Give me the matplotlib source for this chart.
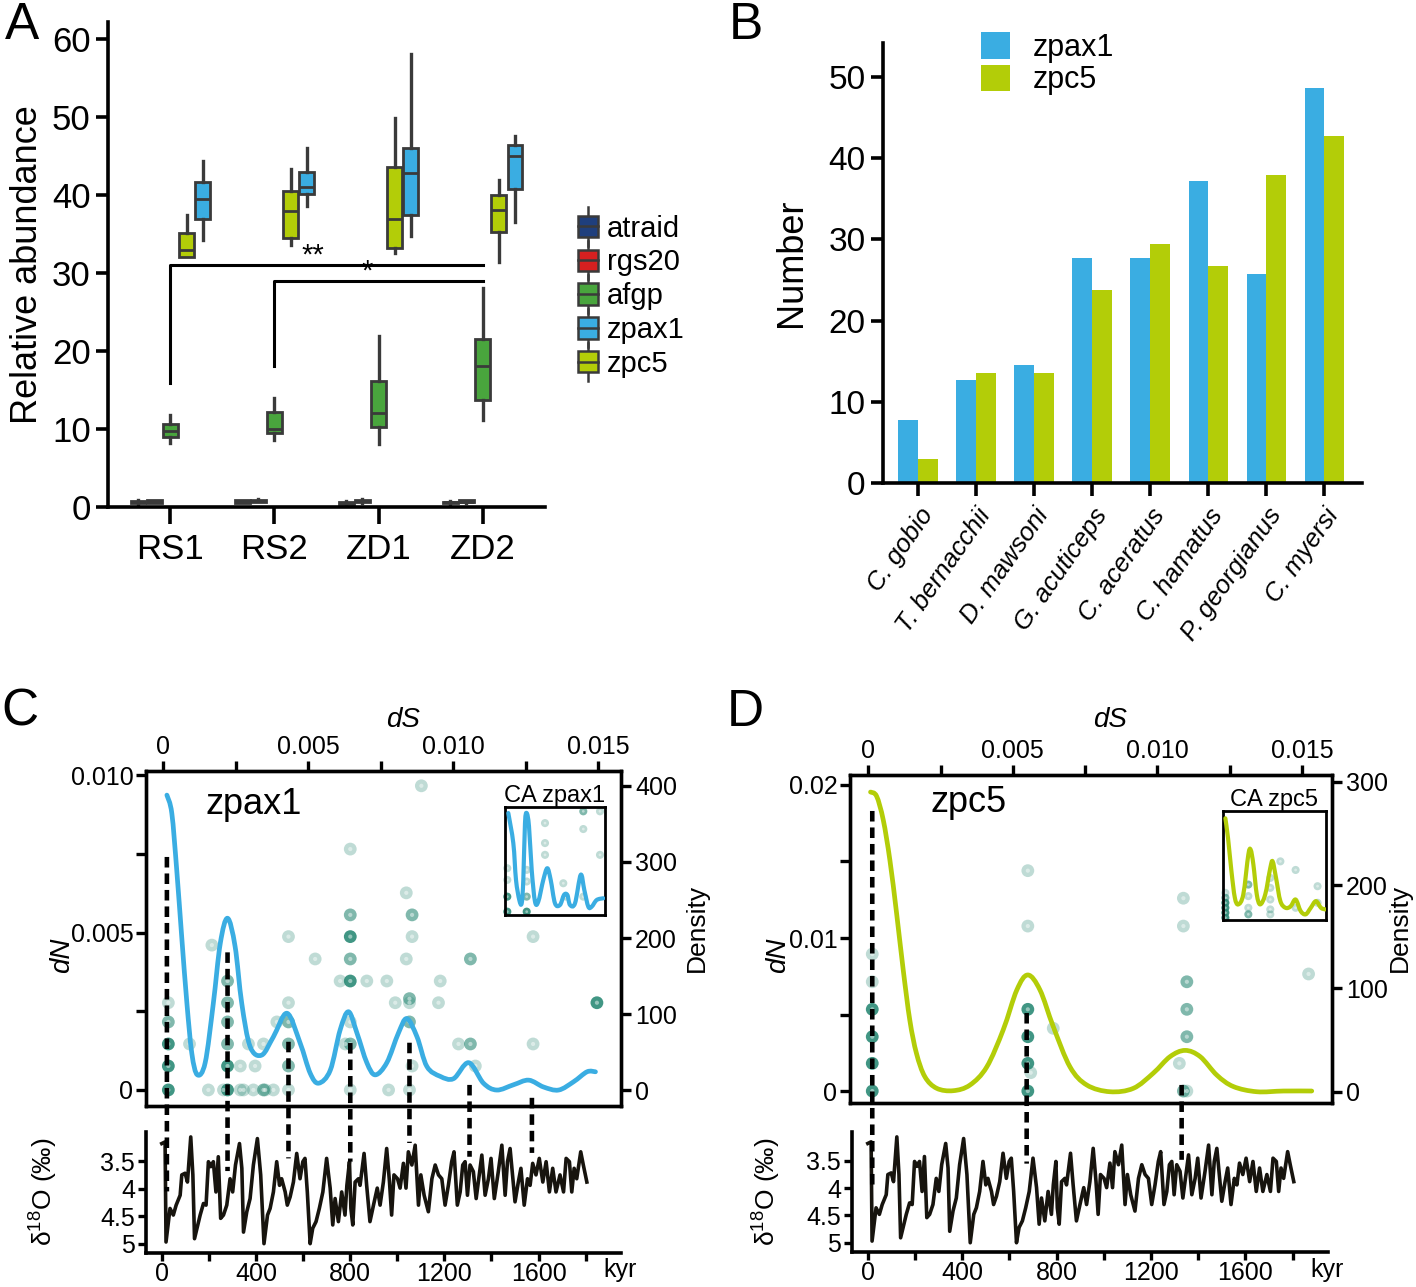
import numpy as np
import matplotlib
matplotlib.use('Agg')
import matplotlib.pyplot as plt
from matplotlib.patches import Patch, Rectangle, ConnectionPatch, PathPatch
from matplotlib.path import Path
from matplotlib.lines import Line2D
from matplotlib.legend_handler import HandlerBase
from matplotlib.transforms import blended_transform_factory
from matplotlib.colors import to_rgba

plt.rcParams['font.family'] = ['Liberation Sans', 'DejaVu Sans']
plt.rcParams['mathtext.fontset'] = 'custom'
plt.rcParams['mathtext.rm'] = 'Liberation Sans'
plt.rcParams['mathtext.it'] = 'Liberation Sans:italic'

# ---------------- data ----------------
# panel A: box stats per group [whislo, q1, median, q3, whishi]
groups = ['RS1', 'RS2', 'ZD1', 'ZD2']
atraid = [[0.4, 0.45, 0.6, 0.75, 0.85], [0.5, 0.55, 0.7, 0.85, 0.9],
          [0.3, 0.4, 0.55, 0.7, 0.8], [0.4, 0.45, 0.6, 0.7, 0.8]]
rgs20 = [[0.5, 0.55, 0.7, 0.85, 0.9], [0.6, 0.7, 0.8, 0.95, 1.0],
         [0.5, 0.6, 0.75, 0.9, 1.0], [0.5, 0.6, 0.7, 0.85, 0.9]]
afgp = [[8.2, 8.95, 9.76, 10.7, 11.76], [8.6, 9.5, 10.0, 12.2, 14.0],
        [8.1, 10.2, 12.1, 16.2, 21.9], [11.2, 13.7, 18.1, 21.6, 28.1]]
zpc5 = [[32.0, 32.0, 33.0, 35.1, 37.4], [33.6, 34.5, 38.0, 40.5, 43.3],
        [32.6, 33.2, 36.9, 43.6, 49.9], [31.4, 35.3, 38.1, 40.0, 42.0]]
zpax1 = [[34.3, 36.9, 39.5, 41.7, 44.4], [38.6, 40.2, 41.0, 43.0, 46.0],
         [34.8, 37.5, 42.8, 46.0, 58.1], [36.5, 40.8, 45.0, 46.4, 47.6]]

# panel B
species = ['C. gobio', 'T. bernacchii', 'D. mawsoni', 'G. acuticeps',
           'C. aceratus', 'C. hamatus', 'P. georgianus', 'C. myersi']
zpax1_counts = [7.8, 12.7, 14.5, 27.7, 27.7, 37.2, 25.8, 48.6]
zpc5_counts = [3.0, 13.6, 13.6, 23.8, 29.5, 26.7, 38.0, 42.8]

# panels C/D: benthic d18O record (kyr, permil)
d18o_record = [
    (0, 3.18), (14, 3.15), (18, 4.97), (35, 4.36), (49, 4.48), (61, 4.30), (78, 4.12),
    (85, 3.75), (99, 3.72), (109, 3.88), (123, 3.06), (132, 3.75), (139, 4.91), (156, 4.60),
    (163, 4.48), (177, 4.27), (188, 4.30), (198, 3.51), (208, 3.60), (219, 3.51), (230, 4.06),
    (240, 3.42), (250, 4.54), (262, 4.48), (276, 4.30), (290, 3.82), (301, 4.06), (313, 3.57),
    (330, 3.18), (340, 3.63), (347, 4.79), (361, 4.42), (375, 4.18), (389, 3.57), (406, 3.09),
    (420, 3.75), (434, 5.00), (449, 4.48), (460, 4.36), (474, 4.06), (488, 3.51), (500, 3.94),
    (509, 3.82), (524, 4.06), (533, 4.30), (545, 4.15), (559, 3.88), (573, 3.36), (587, 3.82),
    (599, 3.51), (608, 3.45), (618, 4.06), (630, 5.00), (641, 4.72), (655, 4.60), (669, 4.36),
    (684, 4.06), (700, 3.45), (715, 3.99), (726, 4.66), (736, 4.18), (750, 4.60), (764, 4.06),
    (778, 4.48), (786, 3.94), (797, 3.51), (803, 4.36), (811, 4.66), (821, 3.88), (835, 3.82),
    (842, 3.94), (859, 3.36), (870, 3.94), (884, 4.60), (899, 4.30), (915, 3.99), (927, 4.30),
    (941, 3.88), (955, 3.27), (967, 3.88), (976, 4.48), (986, 3.75), (1001, 3.82), (1012, 3.99),
    (1026, 3.54), (1037, 3.99), (1047, 3.33), (1062, 3.57), (1076, 3.21), (1090, 4.30),
    (1100, 3.75), (1114, 4.12), (1132, 4.42), (1147, 3.82), (1161, 3.57), (1175, 3.75),
    (1189, 3.82), (1203, 4.30), (1217, 3.94), (1231, 3.51), (1241, 3.33), (1255, 4.30),
    (1267, 4.06), (1278, 3.57), (1288, 3.51), (1298, 4.12), (1309, 3.57), (1323, 3.69),
    (1335, 4.18), (1344, 3.88), (1359, 3.39), (1373, 4.12), (1387, 3.82), (1398, 3.45),
    (1412, 4.18), (1429, 3.69), (1444, 3.21), (1458, 4.12), (1468, 3.51), (1479, 3.27),
    (1500, 4.24), (1514, 3.88), (1525, 3.63), (1539, 4.30), (1553, 3.82), (1564, 3.94),
    (1575, 3.54), (1589, 3.75), (1603, 3.45), (1618, 3.88), (1632, 3.51), (1646, 4.06),
    (1660, 3.63), (1674, 4.06), (1691, 3.75), (1706, 4.06), (1717, 3.45), (1731, 3.51),
    (1741, 4.06), (1751, 3.63), (1762, 3.82), (1779, 3.33), (1790, 3.57), (1805, 3.88)]

# panel C: zpax1 dS/dN pairs (dS, dN, number of overlapping pairs)
zpax1_pairs = [
    (.00018, 0, 3), (.00156, 0, 1), (.00208, 0, 1), (.00222, 0, 3), (.00266, 0, 1), (.00277, 0, 1),
    (.00311, 0, 1), (.00346, 0, 2), (.00352, 0, 1), (.0038, 0, 1), (.00432, 0, 1), (.00645, 0, 1),
    (.00777, 0, 1), (.00849, 0, 1),
    (.00018, .00076, 3), (.00222, .00076, 3), (.00266, .00076, 1), (.00317, .00076, 1),
    (.00432, .00076, 2), (.00858, .00076, 1), (.01076, .00076, 1),
    (.00018, .00146, 3), (.00091, .00146, 1), (.00222, .00146, 2), (.00294, .00146, 1),
    (.00346, .00146, 1), (.00432, .00146, 2), (.00628, .00146, 1), (.00645, .00146, 2),
    (.01018, .00146, 1), (.01059, .00146, 2), (.01275, .00146, 1),
    (.00018, .00216, 2), (.00222, .00216, 2), (.00392, .00216, 1), (.00432, .00216, 2),
    (.00645, .00216, 1), (.00849, .00216, 2),
    (.00018, .00277, 1), (.00222, .00277, 2), (.00432, .00277, 1), (.008, .00277, 1),
    (.00849, .00277, 1), (.00949, .00277, 1), (.01495, .00277, 3), (.00849, .0029, 2),
    (.00222, .00346, 2), (.0061, .00346, 1), (.00645, .00346, 3), (.00702, .00346, 1),
    (.00771, .00346, 1), (.00955, .00346, 1),
    (.00524, .00416, 1), (.00645, .00416, 2), (.00838, .00416, 1), (.01059, .00416, 2),
    (.00432, .00487, 1), (.00645, .00487, 3), (.00858, .00487, 1), (.01275, .00487, 1),
    (.00168, .0046, 1), (.00645, .00556, 2), (.00858, .00556, 2), (.00838, .00626, 1),
    (.00645, .00765, 1), (.0089, .00966, 1)]
zpax1_density_ds = [.00013, .0003, .00047, .00064, .00082, .00099, .00118, .00145, .00173,
                    .00197, .00222, .00248, .00271, .003, .0034, .0038, .00427, .00472, .00507,
                    .00536, .00576, .0061, .00639, .00668, .00702, .00731, .00771, .00811, .0084,
                    .00875, .00909, .00955, .01001, .01053, .01104, .0115, .01208, .0126, .01311,
                    .01363, .01415, .01461, .0149]
zpax1_density = [388, 364, 289, 202, 114, 48, 20, 36, 114, 193, 226, 189, 114, 57, 46, 70, 101,
                 62, 22, 9, 26, 79, 103, 75, 36, 20, 36, 75, 94, 70, 31, 18, 15, 36, 9, 0, 7, 13,
                 4, 0, 11, 24, 24]
ca_zpax1_x = [.033, .083, .11, .143, .167, .183, .2, .217, .24, .267, .3, .333, .383, .423,
              .457, .5, .55, .59, .623, .65, .7, .757, .793, .833, .867, .917, .983]
ca_zpax1_y = [.944, .666, .325, .139, .108, .325, .851, .944, .82, .418, .124, .124, .325, .433,
              .325, .108, .093, .186, .186, .093, .108, .372, .232, .077, .077, .139, .155]
ca_zpax1_pairs = [(.023, .433, 1), (.023, .325, 1), (.023, .17, 3), (.023, .031, 3),
                  (.217, .418, 1), (.217, .31, 1), (.217, .17, 2), (.217, .031, 3),
                  (.4, .851, 1), (.4, .666, 1), (.4, .557, 1), (.583, .294, 1), (.61, .17, 1),
                  (.783, .96, 2), (.783, .796, 1), (.783, .17, 1), (.95, .96, 1), (.95, .557, 1)]
zpax1_peaks = [(.00013, .0074, 4.05), (.00222, .00437, 3.68), (.00432, .00153, 3.45),
               (.00645, .00149, 3.51), (.00849, .0015, 3.17), (.01056, .00016, 3.42),
               (.01271, -.00025, 3.35)]

# panel D: zpc5
zpc5_pairs = [
    (.00014, 0, 3), (.00014, .00181, 3), (.00014, .00355, 3), (.00014, .00534, 3),
    (.00014, .00714, 1), (.00014, .00895, 1),
    (.00552, 0, 3), (.00552, .00181, 3), (.00552, .00355, 3), (.00552, .00534, 3),
    (.00552, .01078, 1), (.00552, .0144, 1), (.00562, .0012, 1), (.0064, .0041, 1),
    (.0109, 0, 2), (.0109, .0126, 1), (.0109, .01078, 1), (.01102, 0, 1),
    (.01102, .00355, 2), (.01102, .00534, 2), (.01102, .00714, 2), (.01076, .00181, 1),
    (.01523, .00765, 1)]
zpc5_density_ds = [.00008, .00029, .00052, .00075, .00098, .00121, .00144, .00167, .00196,
                   .00237, .00294, .00352, .0041, .00467, .00514, .00552, .00594, .0064, .00698,
                   .00756, .00836, .00917, .00986, .01044, .01096, .01148, .01206, .01263,
                   .01344, .01436, .01534]
zpc5_density = [290, 286, 263, 224, 173, 118, 69, 37, 14.5, 3.3, 1, 6.5, 24, 60, 98.5, 113,
                98.5, 63, 24, 6.5, 0, 3.3, 18, 34, 40, 34, 16, 5, 0, 0.7, 0.7]
ca_zpc5_x = [.023, .049, .082, .115, .148, .197, .246, .269, .295, .328, .361, .41, .459, .482,
             .515, .557, .607, .656, .705, .754, .803, .852, .902, .951, .993]
ca_zpc5_y = [.933, .75, .447, .204, .143, .234, .6, .644, .508, .234, .143, .234, .477, .538,
             .386, .173, .112, .125, .188, .082, .052, .112, .173, .112, .097]
ca_zpc5_pairs = [(.023, .249, 1), (.023, .204, 2), (.023, .158, 3), (.023, .112, 3),
                 (.023, .067, 3), (.023, .021, 3), (.246, .325, 2), (.246, .219, 1),
                 (.246, .112, 1), (.246, .052, 2), (.459, .386, 1), (.459, .295, 1),
                 (.459, .188, 1), (.459, .097, 1), (.459, .052, 1), (.557, .538, 1),
                 (.705, .459, 1), (.918, .31, 1), (.918, .158, 1), (.705, .112, 1)]
zpc5_peaks = [(.00014, .0183, 4.0), (.00548, .0051, 3.55), (.01084, .0004, 3.48)]

# ---------------- style ----------------
C_ATRAID = '#1f3f7d'
C_RGS20 = '#d62020'
C_AFGP = '#49a53d'
C_ZPAX1 = '#3aade2'
C_ZPC5 = '#b3cd08'
EDGE = '#3a3a3a'
TEAL = '#2b8a76'
INK = '#17140e'

W, H = 1416, 1287
fig = plt.figure(figsize=(W / 100, H / 100), dpi=100)


def rect(l, t, r, b):
    return [l / W, 1 - b / H, (r - l) / W, (b - t) / H]


def ftext(px, py, s, **kw):
    kw.setdefault('ha', 'center')
    kw.setdefault('va', 'center')
    fig.text(px / W, 1 - py / H, s, **kw)


def smooth_curve(ax, xs, ys, color, lw):
    # draw the read points as one smooth bezier path (catmull-rom style)
    pts = np.column_stack([xs, ys]).astype(float)
    n = len(pts)
    verts, codes = [pts[0]], [Path.MOVETO]
    for i in range(n - 1):
        p0, p1 = pts[max(i - 1, 0)], pts[i]
        p2, p3 = pts[i + 1], pts[min(i + 2, n - 1)]
        verts += [p1 + (p2 - p0) / 6, p2 - (p3 - p1) / 6, p2]
        codes += [Path.CURVE4] * 3
    ax.add_patch(PathPatch(Path(verts, codes), facecolor='none', edgecolor=color, lw=lw,
                           capstyle='round', joinstyle='round', zorder=3))


# ---------------- A ----------------
axA = fig.add_axes(rect(108, 22, 545, 507))
box_sets = [('atraid', atraid, C_ATRAID), ('rgs20', rgs20, C_RGS20), ('afgp', afgp, C_AFGP),
            ('zpc5', zpc5, C_ZPC5), ('zpax1', zpax1, C_ZPAX1)]
offsets = [-0.31, -0.155, 0, 0.155, 0.31]
for (name, stats, col), off in zip(box_sets, offsets):
    bst = [dict(whislo=s[0], q1=s[1], med=s[2], q3=s[3], whishi=s[4], fliers=[]) for s in stats]
    axA.bxp(bst, positions=np.arange(len(groups)) + off, widths=0.14, patch_artist=True,
            showcaps=False, showfliers=False, manage_ticks=False,
            boxprops=dict(facecolor=col, edgecolor=EDGE, linewidth=2.0),
            medianprops=dict(color=EDGE, linewidth=2.0),
            whiskerprops=dict(color=EDGE, linewidth=2.4))
axA.plot([0, 0, 3], [15.9, 31.0, 31.0], color='black', lw=2.2)
axA.plot([1, 1, 3], [18.1, 29.0, 29.0], color='black', lw=2.2)
axA.text(1.37, 30.4, '**', ha='center', va='bottom', fontsize=21)
axA.text(1.89, 28.4, '*', ha='center', va='bottom', fontsize=21)
axA.set_xlim(-0.6, 3.6)
axA.set_ylim(0, 62.2)
axA.spines[['top', 'right']].set_visible(False)
axA.spines[['left', 'bottom']].set_linewidth(2.6)
axA.set_yticks(range(0, 61, 10))
axA.set_xticks(range(len(groups)))
axA.set_xticklabels(groups)
axA.tick_params(axis='both', width=2.6, length=9, labelsize=25, colors='black')
axA.tick_params(axis='x', length=12, pad=7)
axA.set_ylabel('Relative abundance', fontsize=26, labelpad=5)


class BoxHandler(HandlerBase):
    def create_artists(self, legend, orig_handle, xdescent, ydescent, width, height,
                       fontsize, trans):
        x0, y0 = -xdescent, -ydescent
        cx = x0 + width / 2
        wh = Line2D([cx, cx], [y0 - 0.4 * height, y0 + 1.4 * height], color=EDGE, lw=1.8,
                    transform=trans)
        bx = Rectangle((x0, y0), width, height, facecolor=orig_handle.get_facecolor(),
                       edgecolor=EDGE, lw=1.8, transform=trans)
        md = Line2D([x0, x0 + width], [y0 + height / 2] * 2, color=EDGE, lw=1.8,
                    transform=trans)
        return [wh, bx, md]


leg_names = ['atraid', 'rgs20', 'afgp', 'zpax1', 'zpc5']
leg_cols = [C_ATRAID, C_RGS20, C_AFGP, C_ZPAX1, C_ZPC5]
fig.legend([Patch(facecolor=c) for c in leg_cols], leg_names, loc='upper left',
           bbox_to_anchor=(563 / W, 1 - 200 / H), frameon=False, fontsize=21,
           handler_map={Patch: BoxHandler()}, handlelength=0.7, handleheight=0.75,
           labelspacing=0.2, handletextpad=0.3, borderpad=0)

# ---------------- B ----------------
axB = fig.add_axes(rect(883, 43, 1362, 483))
xb = np.arange(len(species))
axB.bar(xb - 0.17, zpax1_counts, 0.34, color=C_ZPAX1, label='zpax1')
axB.bar(xb + 0.17, zpc5_counts, 0.34, color=C_ZPC5, label='zpc5')
axB.set_xlim(-0.605, 7.65)
axB.set_ylim(0, 54.2)
axB.spines[['top', 'right']].set_visible(False)
axB.spines[['left', 'bottom']].set_linewidth(2.6)
axB.set_yticks(range(0, 51, 10))
axB.set_xticks(xb)
axB.set_xticklabels(species, rotation=55, ha='right', va='top', rotation_mode='anchor',
                    style='italic', fontsize=18.5)
axB.tick_params(axis='both', width=2.6, length=9, colors='black')
axB.tick_params(axis='y', labelsize=24)
axB.tick_params(axis='x', length=9, pad=6)
axB.set_ylabel('Number', fontsize=26, labelpad=14)
axB.legend(loc='upper left', bbox_to_anchor=(966 / W, 1 - 17 / H),
           bbox_transform=fig.transFigure, frameon=False, fontsize=22, handlelength=0.95,
           handleheight=0.95, labelspacing=0.06, handletextpad=0.75, borderpad=0)


# ---------------- C / D ----------------
def ring_scatter(ax, pairs, size, inner):
    xs = [p[0] for p in pairs]
    ys = [p[1] for p in pairs]
    cols = [to_rgba(TEAL, min(0.9, 0.3 * p[2])) for p in pairs]
    ax.scatter(xs, ys, s=size, c=cols, edgecolors='none', zorder=2, clip_on=False)
    ax.scatter(xs, ys, s=inner, c=[(1, 1, 1, 0.45)] * len(xs), edgecolors='none',
               zorder=2.1, clip_on=False)


def selection_panel(main_r, o18_r, inset_r, xlim, dn_lim, dn_ticks, dn_labels, dn_minor,
                    dens_lim, dens_ticks, pairs, curve_x, curve_y, color, gene, gene_xy,
                    ca_x, ca_y, ca_pairs, peaks):
    ax = fig.add_axes(rect(*main_r))
    ax.set_xlim(*xlim)
    ax.set_ylim(*dn_lim)
    ring_scatter(ax, pairs, 85, 9)
    ax.xaxis.tick_top()
    ax.set_xticks([0, 0.005, 0.010, 0.015])
    ax.set_xticklabels(['0', '0.005', '0.010', '0.015'])
    ax.set_xticks([0.0025, 0.0075, 0.0125], minor=True)
    ax.set_yticks(dn_ticks)
    ax.set_yticklabels(dn_labels)
    ax.set_yticks(dn_minor, minor=True)
    ax.tick_params(which='both', width=2.4, length=7, labelsize=18, colors='black', pad=2)
    for sp in ax.spines.values():
        sp.set_linewidth(2.4)
    ax.text(*gene_xy, gene, transform=ax.transAxes, fontsize=26, va='center')

    axd = ax.twinx()
    axd.set_ylim(*dens_lim)
    smooth_curve(axd, curve_x, curve_y, color, 3.4)
    axd.set_yticks(dens_ticks)
    axd.tick_params(width=2.4, length=7, labelsize=18, colors='black', pad=3)
    for sp in axd.spines.values():
        sp.set_linewidth(2.4)

    axo = fig.add_axes(rect(*o18_r))
    kyr = [r[0] for r in d18o_record]
    val = [r[1] for r in d18o_record]
    axo.plot(kyr, val, color=INK, lw=2.6, solid_joinstyle='round')
    axo.set_xlim(-67, 1950)
    axo.set_ylim(5.17, 2.97)
    axo.spines[['top', 'right']].set_visible(False)
    axo.spines[['left', 'bottom']].set_linewidth(2.6)
    axo.set_yticks([3.5, 4, 4.5, 5])
    axo.set_yticklabels(['3.5', '4', '4.5', '5'])
    axo.set_xticks(range(0, 1801, 200))
    axo.set_xticklabels([str(k) if k % 400 == 0 else '' for k in range(0, 1801, 200)])
    axo.tick_params(width=2.4, length=6, labelsize=18, colors='black', pad=2)
    axo.tick_params(axis='x', pad=0.5)

    axi = fig.add_axes(rect(*inset_r))
    axi.set_xlim(0, 1)
    axi.set_ylim(0, 1)
    axi.patch.set_alpha(0)
    ring_scatter(axi, ca_pairs, 34, 4)
    smooth_curve(axi, ca_x, ca_y, color, 3.0)
    axi.set_xticks([])
    axi.set_yticks([])
    for sp in axi.spines.values():
        sp.set_linewidth(2.0)
    axi.set_title('CA ' + gene, fontsize=17, pad=2)

    both = blended_transform_factory(ax.transData, axo.transData)
    for ds, top, bottom in peaks:
        con = ConnectionPatch(xyA=(ds, top), coordsA=ax.transData, xyB=(ds, bottom),
                              coordsB=both, color='black', lw=3.3,
                              linestyle=(0, (2.3, 1.3)), capstyle='butt')
        fig.add_artist(con)
    return ax, axd, axo


selection_panel((146, 771, 621, 1106), (146, 1132, 621, 1253), (505, 807, 605, 915),
                (-0.00059, 0.01578), (-0.00051, 0.01013), [0, 0.005, 0.010],
                ['0', '0.005', '0.010'], [0.0025, 0.0075], (-21, 419.7),
                [0, 100, 200, 300, 400], zpax1_pairs, zpax1_density_ds, zpax1_density,
                C_ZPAX1, 'zpax1', (0.125, 0.9), ca_zpax1_x, ca_zpax1_y, ca_zpax1_pairs,
                zpax1_peaks)
selection_panel((850, 775, 1332, 1103), (852, 1132, 1328, 1252), (1223, 811, 1326, 920),
                (-0.00063, 0.01604), (-0.00078, 0.02065), [0, 0.01, 0.02],
                ['0', '0.01', '0.02'], [0.005, 0.015], (-10.9, 306.5),
                [0, 100, 200, 300], zpc5_pairs, zpc5_density_ds, zpc5_density,
                C_ZPC5, 'zpc5', (0.166, 0.915), ca_zpc5_x, ca_zpc5_y, ca_zpc5_pairs,
                zpc5_peaks)

# axis titles for C and D
for dx in (0, 707):
    ftext(403 + dx, 720, 'dS', fontsize=20, style='italic')
    ftext(620 + dx, 1270, 'kyr', fontsize=18)
ftext(62, 955, 'dN', fontsize=20, style='italic', rotation=90)
ftext(778, 955, 'dN', fontsize=20, style='italic', rotation=90)
ftext(697, 928, 'Density', fontsize=19, rotation=90)
ftext(1400, 928, 'Density', fontsize=19, rotation=90)
ftext(44, 1192, 'δ$^{18}$O (‰)', fontsize=19, rotation=90)
ftext(767, 1192, 'δ$^{18}$O (‰)', fontsize=19, rotation=90)

# panel letters
ftext(22, 1, 'A', fontsize=37, va='top')
ftext(746, 1, 'B', fontsize=37, va='top')
ftext(20, 712, 'C', fontsize=37)
ftext(745, 712, 'D', fontsize=37)

fig.savefig('out.png', dpi=100)
